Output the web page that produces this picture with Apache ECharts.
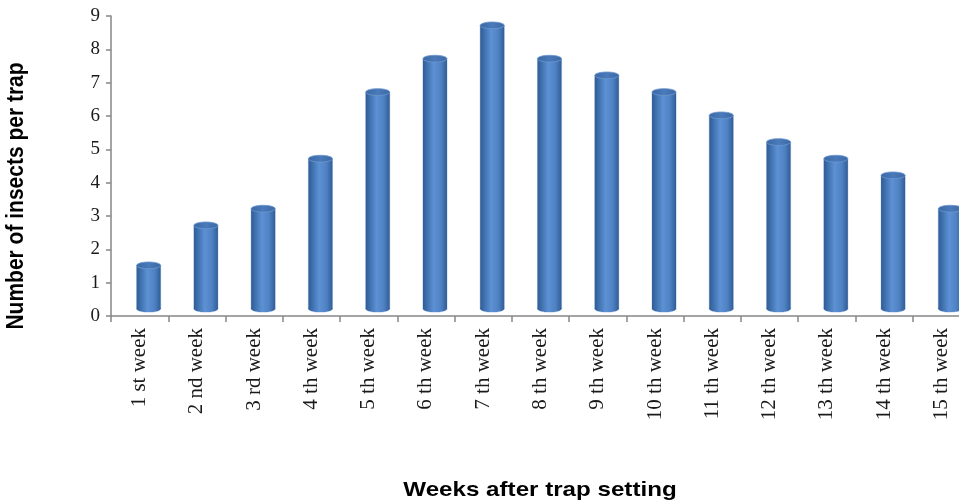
<!DOCTYPE html>
<html>
<head>
<meta charset="utf-8">
<script src="https://cdn.jsdelivr.net/npm/echarts@6/dist/echarts.min.js"></script>
<style>
  html, body { margin: 0; padding: 0; background: #ffffff; }
  #chart { width: 959px; height: 504px; }
</style>
</head>
<body>
<div id="chart"></div>
<script>
// Weekly trap catches
const weeks = ['1 st week', '2 nd week', '3 rd week', '4 th week', '5 th week',
  '6 th week', '7 th week', '8 th week', '9 th week', '10 th week',
  '11 th week', '12 th week', '13 th week', '14 th week', '15 th week'];
const insectsPerTrap = [1.3, 2.5, 3.0, 4.5, 6.5, 7.5, 8.5, 7.5, 7.0, 6.5, 5.8, 5.0, 4.5, 4.0, 3.0];
const yMin = 0, yMax = 9, yStep = 1;

const yTitle = 'Number of insects per trap';
const xTitle = 'Weeks after trap setting';

// plot area (the last category runs slightly past the right edge)
const PLOT_LEFT = 111, PLOT_TOP = 16, PLOT_WIDTH = 859, PLOT_HEIGHT = 300;

// depth offset of the cylinders (drawn behind the front axis plane)
const DEPTH_DX = 9, DEPTH_DY = -7.3;

const bodyFill = {
  type: 'linear', x: 0, y: 0, x2: 1, y2: 0,
  colorStops: [
    { offset: 0, color: '#2e5c96' },
    { offset: 0.2, color: '#4274b2' },
    { offset: 0.45, color: '#5c91d4' },
    { offset: 0.75, color: '#4f82c3' },
    { offset: 1, color: '#305d97' }
  ]
};
const topFill = {
  type: 'linear', x: 0, y: 0, x2: 1, y2: 0,
  colorStops: [
    { offset: 0, color: '#3a68a3' },
    { offset: 0.5, color: '#4a7aba' },
    { offset: 1, color: '#3b69a4' }
  ]
};

function renderCylinder(params, api) {
  const idx = api.value(0);
  const val = api.value(1);
  const base = api.coord([idx, 0]);
  const top = api.coord([idx, val]);
  const band = api.size([1, 0])[0];
  const w = band * 0.42;
  const rx = w / 2, ry = 3.4;
  const cx = base[0] + DEPTH_DX;
  const by = base[1] + DEPTH_DY;
  const ty = top[1] + DEPTH_DY;
  return {
    type: 'group',
    children: [
      { type: 'ellipse', shape: { cx: cx, cy: by, rx: rx + 0.6, ry: ry + 0.6 },
        style: { fill: 'rgba(170,195,228,0.55)' } },
      { type: 'rect', shape: { x: cx - rx - 0.6, y: ty, width: w + 1.2, height: by - ty },
        style: { fill: 'rgba(170,195,228,0.55)' } },
      { type: 'ellipse', shape: { cx: cx, cy: by, rx: rx, ry: ry },
        style: { fill: bodyFill } },
      { type: 'rect', shape: { x: cx - rx, y: ty, width: w, height: by - ty },
        style: { fill: bodyFill } },
      { type: 'ellipse', shape: { cx: cx, cy: ty, rx: rx, ry: ry },
        style: { fill: topFill, stroke: '#6f98cf', lineWidth: 0.8 } }
    ]
  };
}

const chart = echarts.init(document.getElementById('chart'), null, { renderer: 'canvas' });
chart.setOption({
  animation: false,
  backgroundColor: '#ffffff',
  grid: {
    left: PLOT_LEFT, top: PLOT_TOP, width: PLOT_WIDTH, height: PLOT_HEIGHT,
    containLabel: false, outerBoundsMode: 'none'
  },
  xAxis: {
    type: 'category',
    data: weeks,
    boundaryGap: true,
    axisLine: { show: true, lineStyle: { color: '#868686', width: 1.5 } },
    axisTick: { show: true, alignWithLabel: false, length: 6, lineStyle: { color: '#868686', width: 1.5 } },
    axisLabel: {
      interval: 0, rotate: 90, margin: 12,
      fontFamily: 'Liberation Serif', fontSize: 21, color: '#1a1a1a'
    },
    splitLine: { show: false }
  },
  yAxis: {
    type: 'value',
    min: yMin, max: yMax, interval: yStep,
    axisLine: { show: true, lineStyle: { color: '#868686', width: 1.5 } },
    axisTick: { show: true, length: 5, lineStyle: { color: '#868686', width: 1.5 } },
    axisLabel: { margin: 11, fontFamily: 'Liberation Serif', fontSize: 19, color: '#1a1a1a' },
    splitLine: { show: false }
  },
  series: [{
    type: 'custom',
    renderItem: renderCylinder,
    clip: false,
    encode: { x: 0, y: 1 },
    data: insectsPerTrap.map((v, i) => [i, v])
  }],
  graphic: [
    {
      type: 'text', x: 16, y: 196, rotation: Math.PI / 2, scaleY: 1.15,
      style: {
        text: yTitle, fontFamily: 'Liberation Sans', fontWeight: 'bold', fontSize: 21,
        fill: '#000000', textAlign: 'center', textVerticalAlign: 'middle'
      }
    },
    {
      type: 'text', x: 540, y: 490, scaleX: 1.15,
      style: {
        text: xTitle, fontFamily: 'Liberation Sans', fontWeight: 'bold', fontSize: 21,
        fill: '#000000', textAlign: 'center', textVerticalAlign: 'middle'
      }
    }
  ]
});
</script>
</body>
</html>
